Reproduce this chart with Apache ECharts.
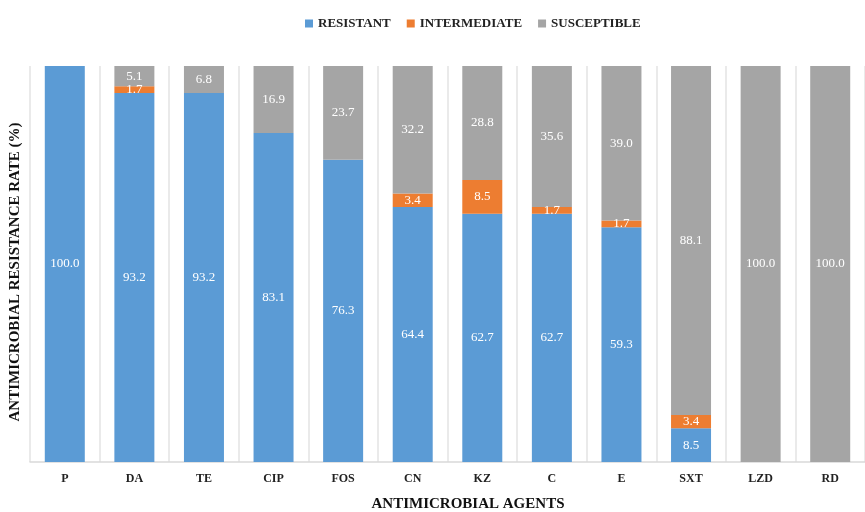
<!DOCTYPE html>
<html>
<head>
<meta charset="utf-8">
<script src="https://cdn.jsdelivr.net/npm/echarts@6/dist/echarts.min.js"></script>
<style>
  html, body { margin: 0; padding: 0; background: #fff; }
  #chart { width: 865px; height: 512px; }
</style>
</head>
<body>
<div id="chart"></div>
<script>
// Antimicrobial agents tested
const agents = ['P', 'DA', 'TE', 'CIP', 'FOS', 'CN', 'KZ', 'C', 'E', 'SXT', 'LZD', 'RD'];

// Share of isolates (%) in each category
const resistant    = [100.0, 93.2, 93.2, 83.1, 76.3, 64.4, 62.7, 62.7, 59.3, 8.5, 0, 0];
const intermediate = [0, 1.7, 0, 0, 0, 3.4, 8.5, 1.7, 1.7, 3.4, 0, 0];
const susceptible  = [0, 5.1, 6.8, 16.9, 23.7, 32.2, 28.8, 35.6, 39.0, 88.1, 100.0, 100.0];

const serif = '"Liberation Serif", "DejaVu Serif", serif';

function segment(name, data, color) {
  return {
    name: name,
    type: 'bar',
    stack: 'rate',
    barWidth: 40,
    data: data,
    itemStyle: { color: color },
    label: {
      show: true,
      position: 'inside',
      color: '#fff',
      fontFamily: serif,
      fontSize: 13,
      formatter: p => (p.value > 0 ? p.value.toFixed(1) : '')
    }
  };
}

const chart = echarts.init(document.getElementById('chart'), null, { renderer: 'canvas' });
chart.setOption({
  animation: false,
  backgroundColor: '#fff',
  legend: {
    top: 12,
    left: 300,
    itemWidth: 8,
    itemHeight: 8,
    itemGap: 16,
    icon: 'rect',
    textStyle: { fontFamily: serif, fontWeight: 'bold', fontSize: 13, color: '#222' },
    data: ['RESISTANT', 'INTERMEDIATE', 'SUSCEPTIBLE']
  },
  grid: { left: 30, top: 66, width: 848, height: 396 },
  xAxis: {
    type: 'category',
    data: agents,
    axisLine: { show: true, lineStyle: { color: '#d9d9d9', width: 1.5 } },
    axisTick: { show: false },
    splitLine: { show: true, lineStyle: { color: '#e3e3e3', width: 1.5 } },
    axisLabel: {
      margin: 11,
      fontFamily: serif,
      fontWeight: 'bold',
      fontSize: 12,
      color: '#222'
    }
  },
  yAxis: {
    type: 'value',
    min: 0,
    max: 100,
    axisLine: { show: false },
    axisTick: { show: false },
    axisLabel: { show: false },
    splitLine: { show: false }
  },
  graphic: [
    {
      type: 'text',
      x: 15, y: 272,
      rotation: Math.PI / 2,
      style: {
        text: 'ANTIMICROBIAL RESISTANCE RATE (%)',
        align: 'center',
        verticalAlign: 'middle',
        font: 'bold 15px ' + serif,
        fill: '#111'
      }
    },
    {
      type: 'text',
      x: 468, y: 504,
      style: {
        text: 'ANTIMICROBIAL AGENTS',
        align: 'center',
        verticalAlign: 'middle',
        font: 'bold 15px ' + serif,
        fill: '#111'
      }
    }
  ],
  series: [
    segment('RESISTANT', resistant, '#5B9BD5'),
    segment('INTERMEDIATE', intermediate, '#ED7D31'),
    segment('SUSCEPTIBLE', susceptible, '#A5A5A5')
  ]
});
</script>
</body>
</html>
